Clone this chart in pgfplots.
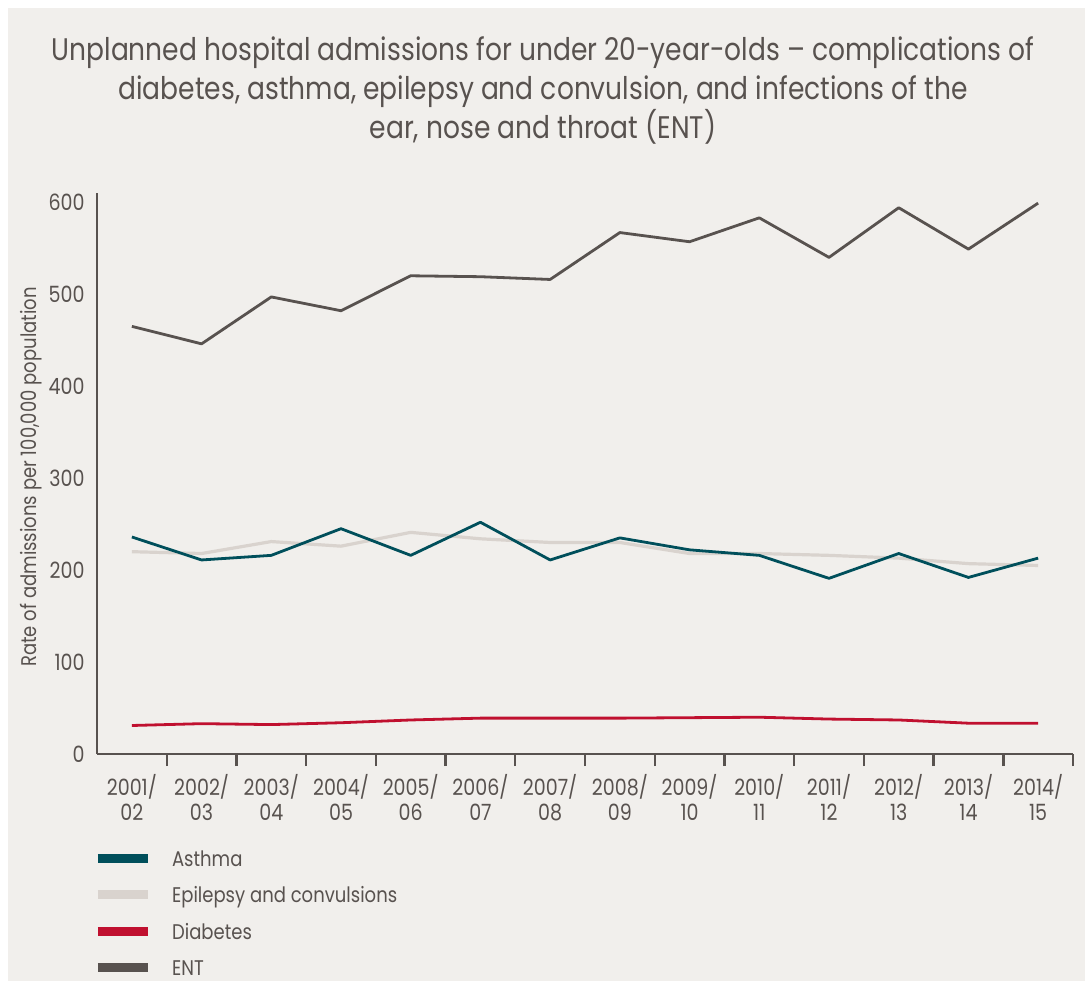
\documentclass[border=0pt]{standalone}
\usepackage{pgfplots}
\pgfplotsset{compat=1.18}
\usepackage{fontspec}
\setmainfont{Poppins}[FakeStretch=0.85]

\definecolor{bg}{HTML}{F1EFEC}
\definecolor{ink}{HTML}{58524F}
\definecolor{asthma}{HTML}{004F5B}
\definecolor{epil}{HTML}{D9D3CE}
\definecolor{diab}{HTML}{C0102F}
\definecolor{ent}{HTML}{58524F}

\begin{document}
\begin{tikzpicture}
% page and panel
\path[use as bounding box] (0,0) rectangle (542.5pt,490.5pt);
\fill[white] (0,0) rectangle (542.5pt,490.5pt);
\fill[bg] (4pt,0) rectangle (542.5pt,486.5pt);

% title
\node[align=center, text=ink, font=\fontsize{15.6}{19.5}\selectfont] at (271.5pt,445.5pt)
  {Unplanned hospital admissions for under 20-year-olds – complications of\\
   diabetes, asthma, epilepsy and convulsion, and infections of the\\
   ear, nose and throat (ENT)};

% y axis label
\node[rotate=90, text=ink, font=\fontsize{10.6}{12}\selectfont] at (15.5pt,252pt)
  {Rate of admissions per 100,000 population};

\begin{axis}[
  at={(48.5pt,113.5pt)}, anchor=south west,
  scale only axis, width=488pt, height=280.5pt,
  xmin=-0.5, xmax=13.5, ymin=0, ymax=610,
  axis lines*=left,
  axis line style={ink, line width=1.3pt},
  clip=false,
  ytick={0,100,...,600},
  xtick={0,...,13},
  xticklabels={{2001/\\02},{2002/\\03},{2003/\\04},{2004/\\05},{2005/\\06},{2006/\\07},{2007/\\08},
               {2008/\\09},{2009/\\10},{2010/\\11},{2011/\\12},{2012/\\13},{2013/\\14},{2014/\\15}},
  minor xtick={0.5,1.5,...,13.5},
  major tick length=0pt,
  minor tick length=6pt,
  tick align=outside,
  minor tick style={ink, line width=1.2pt},
  /pgf/number format/assume math mode=true,
  tick label style={text=ink},
  yticklabel style={anchor=east, inner sep=0pt, xshift=-6pt, font=\fontsize{11.2}{12.5}\selectfont},
  xticklabel style={anchor=north, align=center, inner sep=0pt, yshift=-10pt, font=\fontsize{11.2}{12.5}\selectfont},
  legend cell align=left,
  legend image code/.code={\draw[#1, line width=4.35pt] (0pt,0pt) -- (25pt,0pt);},
  legend style={at={(0,0)}, anchor=north west, xshift=-2pt, yshift=-47pt,
    draw=none, fill=none, inner sep=0pt, row sep=8.2pt, column sep=10pt,
    nodes={inner sep=0pt, text height=9pt, text depth=1pt, text=ink},
    font=\fontsize{10.6}{12}\selectfont},
  every axis plot/.append style={line join=round},
]

% Epilepsy and convulsions
\addplot[epil, line width=1.6pt, forget plot] coordinates {
  (0,220) (1,218) (2,231) (3,226) (4,241) (5,234) (6,230)
  (7,230) (8,218) (9,218) (10,216) (11,213) (12,207) (13,205)};
% Diabetes
\addplot[diab, line width=1.4pt, forget plot] coordinates {
  (0,31) (1,33) (2,32) (3,34) (4,37) (5,39) (6,39)
  (7,39) (8,39.5) (9,40) (10,38) (11,37) (12,33.5) (13,33.5)};
% Asthma
\addplot[asthma, line width=1.4pt, forget plot] coordinates {
  (0,236) (1,211) (2,216) (3,245) (4,216) (5,252) (6,211)
  (7,235) (8,222) (9,216) (10,191) (11,218) (12,192) (13,213)};
% ENT
\addplot[ent, line width=1.4pt, forget plot] coordinates {
  (0,465) (1,446) (2,497) (3,482) (4,520) (5,519) (6,516)
  (7,567) (8,557) (9,583) (10,540) (11,594) (12,549) (13,599)};

\addlegendimage{asthma}\addlegendentry{Asthma}
\addlegendimage{epil}\addlegendentry{Epilepsy and convulsions}
\addlegendimage{diab}\addlegendentry{Diabetes}
\addlegendimage{ent}\addlegendentry{ENT}
\end{axis}
\end{tikzpicture}
\end{document}
